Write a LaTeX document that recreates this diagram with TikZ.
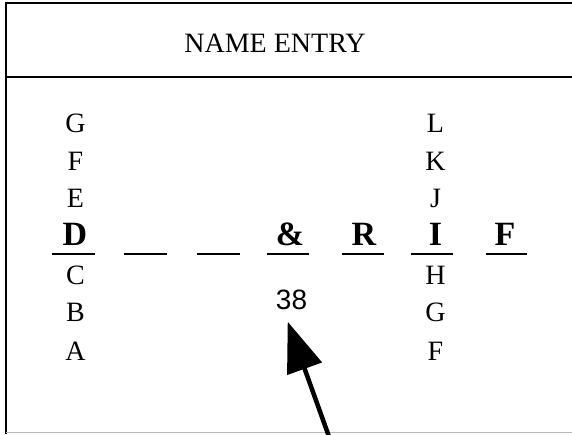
\documentclass[tikz,border=0pt]{standalone}
\usepackage{fontspec}
\setmainfont{Liberation Serif}
\newfontfamily\numfont{Liberation Sans}
\usetikzlibrary{arrows.meta}
\begin{document}
\begin{tikzpicture}[x=1pt,y=-1pt,
  frame/.style={line width=2pt},
  lett/.style={font=\fontsize{28}{28}\selectfont, anchor=base, inner sep=0pt},
  bigl/.style={font=\fontsize{34}{34}\selectfont\bfseries, anchor=base, inner sep=0pt},
  blank/.style={line width=1.8pt},
  pointer/.style={line width=4.5pt, -{Triangle[length=50pt,width=36pt]}},
]
\useasboundingbox (0,0) rectangle (572,434);
% frame
\draw[frame] (572,2.5) -- (6,2.5) -- (6,434);
\draw[frame] (6,77) -- (572,77);
\draw[gray!55, line width=1pt] (6,432.5) -- (572,432.5);
% title
\node[lett] (title) at (275,52.3) {NAME ENTRY};
% left column
\node[lett] (lG) at (75.5,132.3) {G};
\node[lett] (lF) at (75.5,170) {F};
\node[lett] (lE) at (75.5,207.3) {E};
\node[bigl] (lD) at (75,245.7) {D};
\node[lett] (lC) at (75.5,284) {C};
\node[lett] (lB) at (75.5,321.7) {B};
\node[lett] (lA) at (75.5,360) {A};
% other slots
\node[bigl] (amp) at (290,245.7) {\&};
\node[bigl] (sR) at (364,245.7) {R};
\node[bigl] (sI) at (435.5,245.7) {I};
\node[bigl] (sF) at (505,245.7) {F};
% right column
\node[lett] (rL) at (435.5,132.3) {L};
\node[lett] (rK) at (435.5,170) {K};
\node[lett] (rJ) at (435.5,207.3) {J};
\node[lett] (rH) at (435.5,284) {H};
\node[lett] (rG) at (435.5,321.7) {G};
\node[lett] (rF) at (435.5,360) {F};
% underlines
\draw[blank] (52,254) -- (95,254);
\draw[blank] (124,254) -- (167,254);
\draw[blank] (197,254) -- (240,254);
\draw[blank] (267,254) -- (309,254);
\draw[blank] (342,254) -- (384,254);
\draw[blank] (411,254) -- (453,254);
\draw[blank] (486,254) -- (527,254);
% number and pointer
\node[anchor=base, inner sep=0pt, font=\numfont\fontsize{28}{28}\selectfont] (num) at (291.5,309.5) {38};
\coordinate (tip) at (287.7,321.7);
\coordinate (tail) at (329.5,438);
\draw[pointer] (tail) -- (tip);
\end{tikzpicture}
\end{document}
